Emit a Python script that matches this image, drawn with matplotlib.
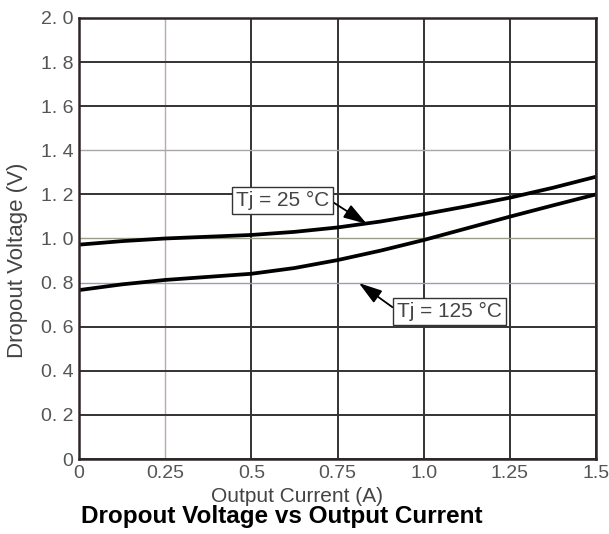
import matplotlib
matplotlib.use("Agg")
import matplotlib.pyplot as plt

plt.rcParams['font.family'] = ['Liberation Sans', 'DejaVu Sans']

current = [0.0, 0.125, 0.25, 0.375, 0.5, 0.625, 0.75, 0.875, 1.0, 1.125, 1.25, 1.375, 1.5]
v_25 = [0.972, 0.988, 1.0, 1.008, 1.016, 1.030, 1.050, 1.077, 1.110, 1.146, 1.185, 1.230, 1.280]
v_125 = [0.766, 0.792, 0.812, 0.826, 0.840, 0.866, 0.902, 0.945, 0.993, 1.046, 1.099, 1.150, 1.200]

x_ticks = [0, 0.25, 0.5, 0.75, 1.0, 1.25, 1.5]
x_tick_labels = ["0", "0.25", "0.5", "0.75", "1.0", "1.25", "1.5"]
y_ticks = [0, 0.2, 0.4, 0.6, 0.8, 1.0, 1.2, 1.4, 1.6, 1.8, 2.0]
y_tick_labels = ["0", "0. 2", "0. 4", "0. 6", "0. 8", "1. 0", "1. 2", "1. 4", "1. 6", "1. 8", "2. 0"]

fig = plt.figure(figsize=(6.09, 5.34), dpi=100)
ax = fig.add_axes([0.1297, 0.1404, 0.849, 0.826])

ax.set_xlim(0, 1.5)
ax.set_ylim(0, 2.0)
ax.set_xticks(x_ticks)
ax.set_xticklabels(x_tick_labels)
ax.set_yticks(y_ticks)
ax.set_yticklabels(y_tick_labels)
ax.tick_params(length=0, labelsize=14, labelcolor="#555555")
ax.tick_params(axis="y", pad=4)
ax.tick_params(axis="x", pad=4)

ax.grid(True, color="#333333", linewidth=1.4)
x_grid_style = {0.25: ("#b8aca6", 1.0)}
y_grid_style = {1.4: ("#a8a8a8", 1.0), 1.0: ("#9c9c8a", 1.0), 0.8: ("#9c9cb4", 1.0)}
for gl, t in zip(ax.get_xgridlines(), x_ticks):
    if t in x_grid_style:
        gl.set_color(x_grid_style[t][0])
        gl.set_linewidth(x_grid_style[t][1])
for gl, t in zip(ax.get_ygridlines(), y_ticks):
    if t in y_grid_style:
        gl.set_color(y_grid_style[t][0])
        gl.set_linewidth(y_grid_style[t][1])
ax.set_axisbelow(True)

for s in ax.spines.values():
    s.set_color("#2e2626")
    s.set_linewidth(1.8)

ax.plot(current, v_25, color="black", linewidth=2.7, solid_capstyle="butt", solid_joinstyle="round")
ax.plot(current, v_125, color="black", linewidth=2.7, solid_capstyle="butt", solid_joinstyle="round")

bbox = dict(boxstyle="square,pad=0.2", facecolor="white", edgecolor="#333333", linewidth=1.0)
ax.annotate("Tj = 25 \u00b0C", xy=(0.835, 1.066), xytext=(0.590, 1.172),
            textcoords="data", fontsize=15, color="#444444",
            ha="center", va="center", bbox=bbox,
            arrowprops=dict(arrowstyle="-|>,head_length=0.95,head_width=0.3", color="black",
                            linewidth=1.3, shrinkA=0, shrinkB=0, relpos=(1.0, 0.55)))
ax.annotate("Tj = 125 \u00b0C", xy=(0.812, 0.798), xytext=(1.075, 0.669),
            textcoords="data", fontsize=15, color="#444444",
            ha="center", va="center", bbox=bbox,
            arrowprops=dict(arrowstyle="-|>,head_length=0.95,head_width=0.3", color="black",
                            linewidth=1.3, shrinkA=0, shrinkB=0, relpos=(0.0, 0.55)))

fig.text(0.028, 0.513, "Dropout Voltage (V)", fontsize=16, color="#444444",
         rotation=90, ha="center", va="center")
fig.text(0.488, 0.071, "Output Current (A)", fontsize=15, color="#444444", ha="center", va="center")
fig.text(0.462, 0.032, "Dropout Voltage vs Output Current", fontsize=17.5, fontweight="bold",
         color="black", ha="center", va="center")

fig.savefig("out.png", dpi=100)
